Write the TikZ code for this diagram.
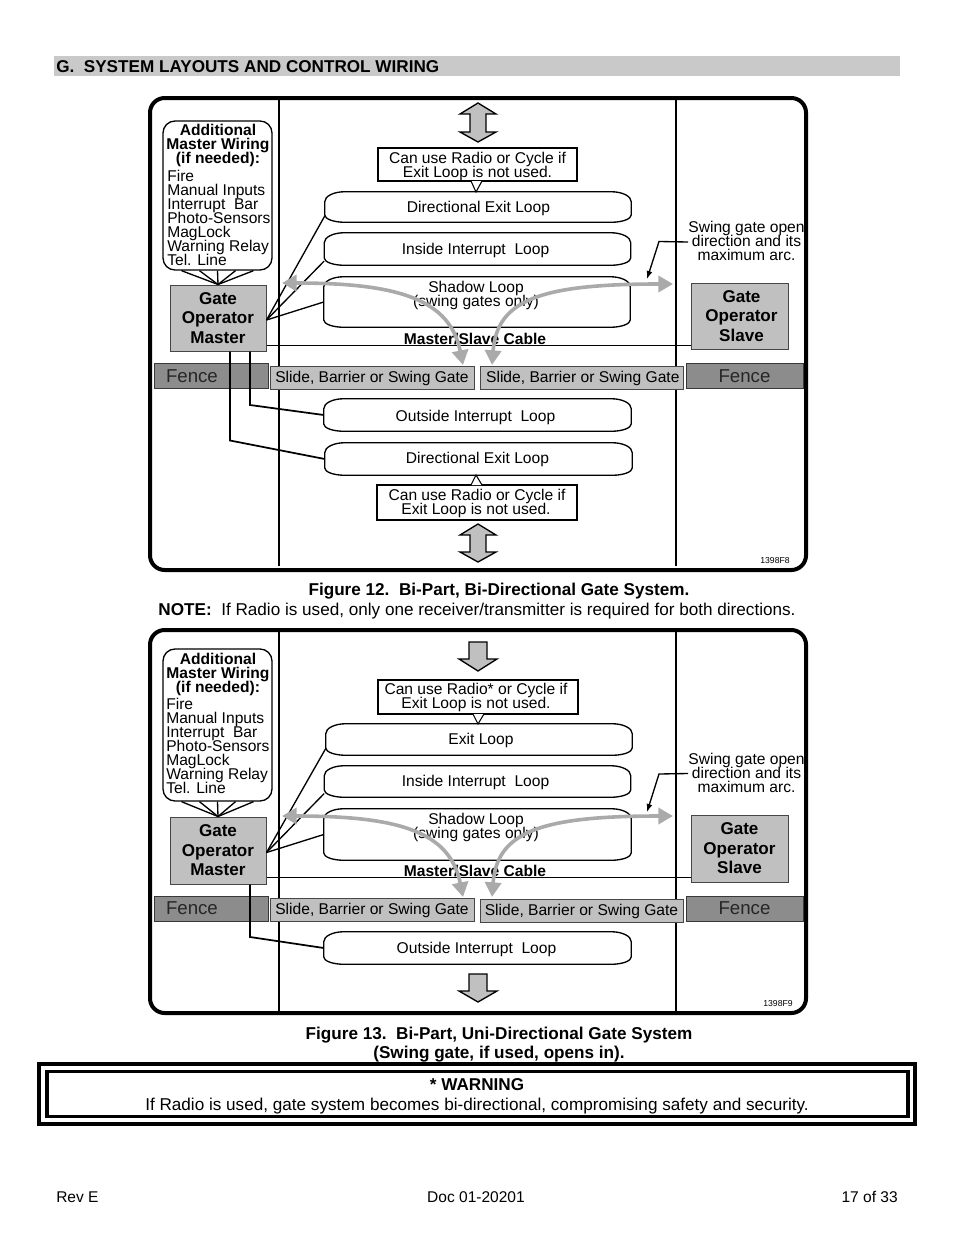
\documentclass[tikz,border=0pt]{standalone}
\usepackage{fontspec}
\setmainfont{Liberation Sans}
\usepackage{xcolor}
\usetikzlibrary{arrows.meta, positioning}
\definecolor{boxgray}{RGB}{192,192,192}
\definecolor{fencegray}{RGB}{140,140,140}
\definecolor{edgegray}{RGB}{70,70,70}
\definecolor{swinggray}{RGB}{170,170,170}
\def\px{0.75pt}
\newcommand{\bodyfont}{\fontsize{11.7}{10.5}\selectfont\lineskiplimit=-20pt\relax}
\newcommand{\loopoutline}[4]{%
    \draw[line width=1pt, fill=white]
        ([xshift=15pt]#1.north west) -- ([xshift=-15pt]#1.north east)
        arc[x radius=15pt, y radius=7.5pt, start angle=90, end angle=0]
        -- ([yshift=5.5pt]#1.south east)
        arc[x radius=15pt, y radius=5.5pt, start angle=0, end angle=-90]
        -- ([xshift=15pt]#1.south west)
        arc[x radius=15pt, y radius=5.5pt, start angle=270, end angle=180]
        -- ([yshift=-7.5pt]#1.north west)
        arc[x radius=15pt, y radius=7.5pt, start angle=180, end angle=90] -- cycle;
    \node[txt, text depth=1pt] at ([xshift=#3*\px, yshift=#4*\px]#1.center) {#2};
}

\begin{document}
\begin{tikzpicture}[
    x=0.75pt, y=-0.75pt,
    boxsize/.style 2 args={minimum width=#1*\px, minimum height=#2*\px, inner sep=0pt},
    txt/.style={font=\bodyfont, align=center, inner sep=0pt},
    frame/.style={draw=black, line width=3pt, rounded corners=11pt},
    divider/.style={line width=2.2pt},
    wire/.style={line width=1pt},
    gatebox/.style={draw=edgegray, fill=boxgray, line width=0.75pt, font=\bodyfont, text depth=1pt},
    opbox/.style={draw=edgegray, fill=boxgray, line width=0.75pt, align=center, font=\fontsize{12.8}{14.6}\selectfont\bfseries},
    fencebox/.style={draw=edgegray!80!black, fill=fencegray, line width=0.75pt, font=\fontsize{14}{16}\selectfont, text=black!85},
    wiringbox/.style={draw=black, fill=white, line width=1pt, rounded corners=9pt},
    notebox/.style={draw=black, fill=white, line width=0.8pt, align=center, font=\bodyfont},
    loopbox/.style={font=\bodyfont, align=center},
    swing/.style={draw=swinggray, line width=2.7pt, {Triangle[length=11pt, width=12pt]}-{Triangle[length=11pt, width=12pt]}},
    pointer/.style={line width=1pt, -{Latex[length=6pt, width=4.5pt]}},
    bigarrow/.style={draw=black, fill=boxgray, line width=1pt},
    caption/.style={font=\fontsize{12.85}{14}\selectfont\bfseries, inner sep=0pt, anchor=base},
    plain/.style={font=\fontsize{12.85}{14}\selectfont, inner sep=0pt, anchor=base},
    footer/.style={font=\fontsize{11.65}{14}\selectfont, inner sep=0pt}
]
    \useasboundingbox (0,0) rectangle (954,1235);

    % Section heading
    \node[fill=boxgray!85!white, boxsize={846}{20}] (headbar) at (477,66) {};
    \node[caption, anchor=base west] (headtext) at (56,72) {G.\ \ SYSTEM LAYOUTS AND CONTROL WIRING};

    % ---- Figure 12 ----
    \node[frame, boxsize={656}{472}] (frameA) at (478,334) {};
    \draw[divider] (279,98) -- (279,566);
    \draw[divider] (676,98) -- (676,566);

    % Double arrows
    \draw[bigarrow] (478,103) -- (496,114) -- (486,114) -- (486,132) -- (496,132) -- (478,142)
        -- (460,132) -- (470,132) -- (470,114) -- (460,114) -- cycle;
    \draw[bigarrow] (478,524) -- (496,535) -- (486,535) -- (486,552) -- (496,552) -- (478,562)
        -- (460,552) -- (470,552) -- (470,535) -- (460,535) -- cycle;

    % Loops
    \node[loopbox, boxsize={306}{30}] (exitA) at (478,207) {};
    \node[loopbox, boxsize={306}{32}] (insideA) at (477.5,249) {};
    \node[loopbox, boxsize={306}{50}] (shadowA) at (477,302) {};
    \node[loopbox, boxsize={307}{32}] (outsideA) at (477.5,415) {};
    \node[loopbox, boxsize={307}{32}] (exitB) at (478.5,459) {};
    \loopoutline{exitA}{Directional Exit Loop}{0.5}{-1}
    \loopoutline{insideA}{Inside Interrupt\ \ Loop}{-2}{-1}
    \loopoutline{shadowA}{}{0}{0}
    \loopoutline{outsideA}{Outside Interrupt\ \ Loop}{-2}{-2}
    \loopoutline{exitB}{Directional Exit Loop}{-1}{0}
    \node[txt] (shadowtextA) at (476,295) {Shadow Loop\\(swing gates only)};

    % Notes
    \node[notebox, boxsize={199}{33}, text depth=0pt] (noteA) at (477.5,164.5) {Can use Radio or Cycle if\\Exit Loop is not used.};
    \draw[fill=white, line width=0.8pt] (471,181) -- (476,192) -- (482,181);
    \node[notebox, boxsize={200}{35}, text depth=1.2pt] (noteB) at (477,502.5) {Can use Radio or Cycle if\\Exit Loop is not used.\hspace*{1.5pt}};
    \draw[fill=white, line width=0.8pt] (471,485) -- (476,475) -- (482,485);

    % Wiring box
    \node[wiringbox, boxsize={109}{149}] (wiringA) at (217.5,195.5) {};
    \node[txt, font=\bodyfont\bfseries] (wiringheadA) at (218,145.5) {Additional\\Master Wiring\\(if needed):};
    \node[txt, align=left, anchor=west] (wiringlistA) at (167,217.5) {Fire\\Manual Inputs\\Interrupt\ \ Bar\\Photo-Sensors\\MagLock\\Warning Relay\\Tel. Line};

    % Operators
    \node[opbox, boxsize={96}{66}] (masterA) at (218,318) {Gate\\Operator\\Master};
    \node[opbox, boxsize={97}{66}] (slaveA) at (739.5,316) {\hspace*{3pt}Gate\\\hspace*{3pt}Operator\\\hspace*{3pt}Slave};

    % Fence and gates
    \node[fencebox, boxsize={114}{25}, text width=90*\px] (fenceA) at (211,376) {Fence};
    \node[gatebox, boxsize={204}{23}] (gateA) at (372,377.5) {Slide, Barrier or Swing Gate};
    \node[gatebox, boxsize={203}{23}] (gateB) at (581.5,377.5) {\hspace*{2pt}Slide, Barrier or Swing Gate};
    \node[fencebox, boxsize={117}{25}] (fenceB) at (744.5,376) {Fence};

    % Wiring
    \foreach \dx in {-36,-18,0,18,36}
        \draw[wire] ([xshift=\dx*\px]wiringA.south) -- (masterA.north);
    \draw[wire] ([yshift=-2*\px]masterA.east) -- ([yshift=-9*\px]exitA.west);
    \draw[wire] ([yshift=-2*\px]masterA.east) -- ([yshift=-12*\px]insideA.west);
    \draw[wire] ([yshift=-2*\px]masterA.east) -- (shadowA.west);
    \coordinate (bendA) at (250,405);
    \coordinate (bendB) at (230,440.5);
    \draw[wire, line width=1.3pt] (bendA |- masterA.south) -- (bendA) -- (outsideA.west);
    \draw[wire, line width=1.3pt] (bendB |- masterA.south) -- (bendB) -- (exitB.west);

    % Master/slave cable
    \coordinate (cableA) at (400,345);
    \draw[line width=0.6pt] (masterA.east |- cableA) -- (slaveA.west |- cableA);
    \node[txt, font=\bodyfont\bfseries] (cabletextA) at (475,339) {Master/Slave Cable};

    % Swing arcs
    \coordinate (leftendA) at (282,283);
    \coordinate (leftgateA) at (463,365);
    \coordinate (rightendA) at (673,284);
    \coordinate (rightgateA) at (492,365);
    \draw[swing] (leftendA) .. controls (400,283) and (450,300) .. (leftgateA);
    \draw[swing] (rightgateA) .. controls (497,300) and (540,284) .. (rightendA);

    % Swing note
    \node[txt] (swingnoteA) at (746.5,241) {Swing gate open\\direction and its\\maximum arc.};
    \coordinate (swingtipA) at (647,279);
    \draw[pointer] ([yshift=-1*\px]swingnoteA.west) -- (659,241.5) -- (swingtipA);

    \node[font=\fontsize{6.5}{8}\selectfont, inner sep=0pt] (idA) at (775,561) {1398F8};

    % Captions
    \node[caption] (capA) at (499,595) {Figure 12.\ \ Bi-Part, Bi-Directional Gate System.};
    \node[plain] (noteline) at (477,615) {\textbf{NOTE:}\ \ If Radio is used, only one receiver/transmitter is required for both directions.};

    % ---- Figure 13 ----
    \node[frame, boxsize={656}{383}] (frameC) at (478,821.5) {};
    \draw[divider] (279,630) -- (279,1013);
    \draw[divider] (676,630) -- (676,1013);

    % Down arrows
    \draw[bigarrow] (469,642) -- (487,642) -- (487,659) -- (497,659) -- (478,671) -- (459,659) -- (469,659) -- cycle;
    \draw[bigarrow] (469,974) -- (487,974) -- (487,991) -- (497,991) -- (478,1002) -- (459,991) -- (469,991) -- cycle;

    % Loops
    \node[loopbox, boxsize={306}{31}] (exitC) at (479,739.5) {};
    \node[loopbox, boxsize={306}{31}] (insideC) at (477.5,781.5) {};
    \node[loopbox, boxsize={307}{51}] (shadowC) at (477.5,834.5) {};
    \node[loopbox, boxsize={307}{32}] (outsideC) at (477.5,948) {};
    \loopoutline{exitC}{Exit Loop}{2}{0}
    \loopoutline{insideC}{Inside Interrupt\ \ Loop}{-2}{0}
    \loopoutline{shadowC}{}{0}{0}
    \loopoutline{outsideC}{Outside Interrupt\ \ Loop}{-1}{-1}
    \node[txt] (shadowtextC) at (476,827) {Shadow Loop\\(swing gates only)};

    % Note
    \node[notebox, boxsize={200}{34}] (noteC) at (478,697) {Can use Radio* or Cycle if\hspace*{3pt}\\Exit Loop is not used.\hspace*{3pt}};
    \draw[fill=white, line width=0.8pt] (473,714) -- (478,724) -- (484,714);

    % Wiring box
    \node[wiringbox, boxsize={109}{152}] (wiringC) at (217.5,725) {};
    \node[txt, font=\bodyfont\bfseries] (wiringheadC) at (218,674.5) {Additional\\Master Wiring\\(if needed):};
    \node[txt, align=left, anchor=west] (wiringlistC) at (166,745.5) {Fire\\Manual Inputs\\Interrupt\ \ Bar\\Photo-Sensors\\MagLock\\Warning Relay\\Tel. Line};

    % Operators
    \node[opbox, boxsize={96}{67}] (masterC) at (218,850.5) {Gate\\Operator\\Master};
    \node[opbox, boxsize={97}{67}] (slaveC) at (739.5,848.5) {Gate\\Operator\\Slave};

    % Fence and gates
    \node[fencebox, boxsize={114}{25}, text width=90*\px] (fenceC) at (211,908.5) {Fence};
    \node[gatebox, boxsize={204}{23}] (gateC) at (372,909.5) {Slide, Barrier or Swing Gate};
    \node[gatebox, boxsize={203}{23}] (gateD) at (581.5,910.5) {Slide, Barrier or Swing Gate};
    \node[fencebox, boxsize={117}{25}] (fenceD) at (744.5,908.5) {Fence};

    % Wiring
    \foreach \dx in {-36,-18,0,18,36}
        \draw[wire] ([xshift=\dx*\px]wiringC.south) -- (masterC.north);
    \draw[wire] ([yshift=-2*\px]masterC.east) -- ([yshift=-9*\px]exitC.west);
    \draw[wire] ([yshift=-2*\px]masterC.east) -- ([yshift=-12*\px]insideC.west);
    \draw[wire] ([yshift=-2*\px]masterC.east) -- (shadowC.west);
    \coordinate (bendC) at (250,937);
    \draw[wire, line width=1.3pt] (bendC |- masterC.south) -- (bendC) -- (outsideC.west);

    % Master/slave cable
    \coordinate (cableC) at (400,877);
    \draw[line width=0.6pt] (masterC.east |- cableC) -- (slaveC.west |- cableC);
    \node[txt, font=\bodyfont\bfseries] (cabletextC) at (475,871) {Master/Slave Cable};

    % Swing arcs
    \coordinate (leftendC) at (282,816);
    \coordinate (leftgateC) at (463,897);
    \coordinate (rightendC) at (673,816);
    \coordinate (rightgateC) at (492,897);
    \draw[swing] (leftendC) .. controls (400,816) and (450,832) .. (leftgateC);
    \draw[swing] (rightgateC) .. controls (497,832) and (540,816) .. (rightendC);

    % Swing note
    \node[txt] (swingnoteC) at (746.5,772.5) {Swing gate open\\direction and its\\maximum arc.};
    \coordinate (swingtipC) at (647,812);
    \draw[pointer] ([yshift=-1*\px]swingnoteC.west) -- (659,774) -- (swingtipC);

    \node[font=\fontsize{6.5}{8}\selectfont, inner sep=0pt] (idC) at (778,1004) {1398F9};

    % Captions
    \node[caption] (capC) at (499,1039) {Figure 13.\ \ Bi-Part, Uni-Directional Gate System};
    \node[caption] (capD) at (499,1058) {(Swing gate, if used, opens in).};

    % Warning
    \node[draw=black, line width=2.6pt, boxsize={876}{60}] (warnouter) at (477,1094) {};
    \node[draw=black, line width=2.4pt, boxsize={861}{45}] (warninner) at (477.5,1094) {};
    \node[caption] (warnhead) at (477,1090) {* WARNING};
    \node[plain] (warnline) at (477,1110) {If Radio is used, gate system becomes bi-directional, compromising safety and security.};

    % Footer
    \node[footer, anchor=base west] (footleft) at (56,1202.5) {Rev E};
    \node[footer, anchor=base] (footmid) at (476,1202.5) {Doc 01-20201};
    \node[footer, anchor=base east] (footright) at (898,1202.5) {17 of 33};
\end{tikzpicture}
\end{document}
